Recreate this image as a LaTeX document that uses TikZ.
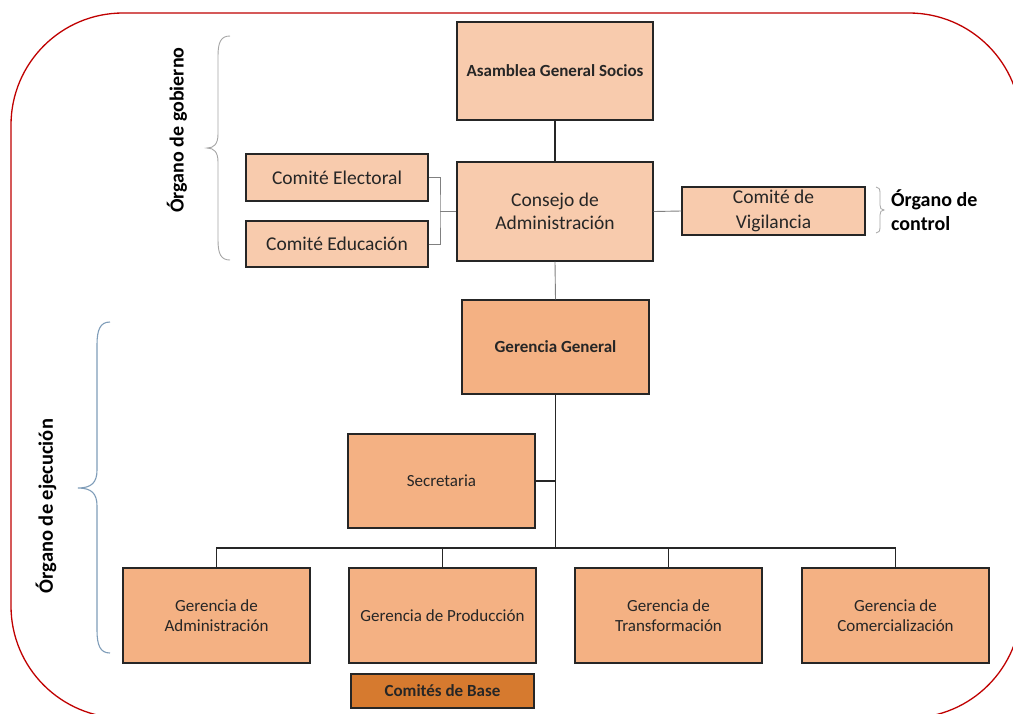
\documentclass[tikz,border=0pt]{standalone}
\usepackage{fontspec}
\setmainfont{Carlito}
\usetikzlibrary{positioning}
\definecolor{peach}{HTML}{F8CBAD}
\definecolor{peachdk}{HTML}{F4B183}
\definecolor{basecol}{HTML}{D67A2F}
\definecolor{framered}{HTML}{C00000}
\definecolor{txt}{HTML}{262626}
\definecolor{bracegray}{HTML}{A6A6A6}
\definecolor{braceblue}{HTML}{7F9DB9}
\tikzset{
  box/.style={draw=txt, line width=1.4pt, fill=peach, text=txt, align=center, inner sep=2pt},
  topbox/.style={box, font=\fontsize{19.5}{23}\selectfont},
  boldbox/.style={box, font=\fontsize{17}{20}\selectfont\bfseries},
  gerbox/.style={box, fill=peachdk, minimum width=187pt, minimum height=95pt, font=\fontsize{17}{20}\selectfont},
  darkline/.style={draw=txt, line width=1.5pt},
  grayline/.style={draw=gray, line width=0.9pt},
  sidelabel/.style={font=\fontsize{20}{24}\selectfont\bfseries, text=black, inner sep=0pt},
}
\begin{document}
\begin{tikzpicture}[x=1pt,y=-1pt]
\useasboundingbox (0,0) rectangle (1013,713);
\clip (0,0) rectangle (1013,713);
\fill[white] (0,0) rectangle (1013,713);
% frame
\draw[framered, line width=1.3pt, rounded corners=112pt] (11,13) rectangle (1021,718);

% boxes
\node[boldbox, minimum width=196pt, minimum height=98pt] (asam) at (555,71) {Asamblea General Socios};
\node[topbox, minimum width=196pt, minimum height=99pt] (cons) at (555,211.5) {Consejo de\\Administración};
\node[topbox, minimum width=182pt, minimum height=47pt] (celec) at (337,177.5) {Comité Electoral};
\node[topbox, minimum width=182pt, minimum height=46pt] (ceduc) at (337,244) {Comité Educación};
\node[topbox, minimum width=183pt, minimum height=48pt, inner sep=0pt, font=\fontsize{19.5}{24.5}\selectfont] (cvig) at (773.5,211) {Comité de\\Vigilancia};
\node[boldbox, fill=peachdk, minimum width=187pt, minimum height=94pt] (gg) at (555.5,347) {Gerencia General};
\node[gerbox, minimum height=94pt] (sec) at (441.5,481) {Secretaria};
\node[gerbox] (ga) at (216.5,615.5) {Gerencia de\\Administración};
\node[gerbox] (gp) at (442.5,615.5) {Gerencia de Producción};
\node[gerbox] (gt) at (668.5,615.5) {Gerencia de\\Transformación};
\node[gerbox] (gc) at (895.5,615.5) {Gerencia de\\Comercialización};
\node[boldbox, fill=basecol, minimum width=183pt, minimum height=34pt, text=black!85] (cb) at (442.5,691) {Comités de Base};

% connectors
\draw[darkline] (asam.south) -- (cons.north);
\coordinate (jc) at (440,211.5);
\draw[grayline] (celec.east) -| (jc) |- (ceduc.east);
\draw[grayline] (jc) -- (cons.west);
\draw[grayline] (cons.east) -- (cvig.west);
\draw[grayline] (cons.south) -- (gg.north);
\coordinate (bus) at (555.5,548);
\draw[darkline] (gg.south) -- (bus);
\draw[darkline] (sec.east) -- (sec.east -| bus);
\draw[darkline] (ga.north) |- (bus) -| (gc.north);
\draw[darkline] (gp.north) -- (gp.north |- bus);
\draw[darkline] (gt.north) -- (gt.north |- bus);

% braces
\draw[bracegray, line width=0.9pt] (230,36) .. controls (221,36) and (218,42) .. (218,56) -- (218,134)
  .. controls (218,144) and (214,148) .. (207,148)
  .. controls (214,148) and (218,152) .. (218,162) -- (218,240)
  .. controls (218,254) and (221,260) .. (230,260);
\draw[braceblue, line width=1.1pt] (110,322) .. controls (100,322) and (97,330) .. (97,345) -- (97,470)
  .. controls (97,482) and (92,488) .. (78,488)
  .. controls (92,488) and (97,494) .. (97,506) -- (97,630)
  .. controls (97,645) and (100,653) .. (110,653);
\draw[bracegray, line width=0.8pt] (876,187) .. controls (879,187) and (880,189) .. (880,193) -- (880,205)
  .. controls (880,208) and (881,210) .. (884,210)
  .. controls (881,210) and (880,212) .. (880,215) -- (880,227)
  .. controls (880,231) and (879,233) .. (876,233);

% labels
\node[sidelabel, rotate=90] (lgob) at (177,130) {Órgano de gobierno};
\node[sidelabel, rotate=90, font=\fontsize{20.5}{24}\selectfont\bfseries] (leje) at (46,506) {Órgano de ejecución};
\node[sidelabel, anchor=west, align=left] (lctl) at (891,210) {Órgano de\\control};
\end{tikzpicture}
\end{document}
